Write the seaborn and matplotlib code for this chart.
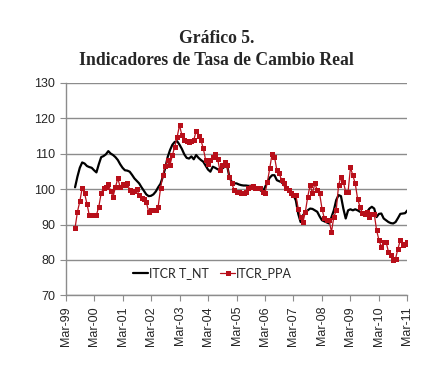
import numpy as np
import pandas as pd
import matplotlib
matplotlib.use("Agg")
import matplotlib.pyplot as plt
import seaborn as sns

# month index counted from Mar-99 (0) to Mar-11 (144)
first_month = 4
last_month = 144

itcr_tnt = [100.5, 103.5, 106, 107.5, 107.2, 106.5, 106.2, 106, 105.3, 104.7,
            107, 109, 109.3, 109.8, 110.7, 110, 109.6, 109, 108.2, 107,
            106, 105.3, 105.2, 104.9, 104, 103, 102.3, 101.6, 100.5, 99.5,
            98.5, 98, 98.1, 98.5, 99.3, 100.5, 101.5, 103.5, 106, 109,
            111, 112.5, 113.3, 113.5, 112.5, 111.3, 109.8, 108.8, 108.6, 109.2,
            108.4, 109.6, 108.8, 108.2, 107.7, 106.6, 105.5, 104.9, 106.3, 106,
            105.6, 105.3, 105.8, 106.3, 106.8, 103.4, 102, 101.6, 101.6, 101.3,
            101.1, 101, 101, 100.9, 100.9, 101, 100.4, 100, 99.7, 99.2,
            100.5, 102, 103.2, 103.9, 103.9, 102.5, 102.2, 101.9, 101.2, 100.2,
            99.5, 98.9, 98.3, 96.8, 93, 90.7, 92.6, 93.5, 94, 94.5,
            94.4, 94, 93.6, 92.3, 91.2, 90.9, 90.6, 90.3, 92.1, 94,
            96.9, 98.3, 98, 94.5, 91.7, 94, 94.3, 94, 94.3, 94,
            93.6, 93.4, 93.1, 93.6, 94.5, 95, 94.5, 92.1, 93, 93.1,
            91.7, 91.2, 90.7, 90.4, 90.3, 90.7, 91.8, 93, 93.1, 93.2,
            94]

itcr_ppa = [89, 93.6, 96.5, 100.3, 98.8, 95.9, 92.6, 92.6, 92.6, 92.7,
            95, 98.8, 100.3, 100.5, 101.3, 99.5, 97.8, 100.5, 103, 100.6,
            101.4, 101.2, 101.8, 99.7, 99.2, 99.4, 99.9, 98.3, 97.5, 97.3,
            96.4, 93.6, 94, 94.1, 94.2, 95, 100.2, 104, 106.5, 108.2,
            106.8, 109.6, 111.9, 114.7, 118, 115.2, 113.8, 113.5, 113.4, 113.6,
            113.8, 116.4, 114.9, 113.8, 111.5, 108.2, 107, 108.2, 109.1, 110,
            108.6, 105.3, 106.8, 107.7, 106.8, 103.4, 101.6, 99.7, 99.2, 99.2,
            98.8, 99, 99.2, 100.2, 100.5, 100.8, 100.2, 100.2, 100.2, 99.2,
            98.8, 102, 105.8, 110, 109.1, 105.3, 104.4, 102.5, 101.6, 100.2,
            99.7, 98.8, 98.3, 98.3, 94.5, 92.1, 90.7, 93.6, 97.8, 101.1,
            98.8, 101.6, 99.7, 98.8, 94.5, 91.7, 91.2, 91.2, 87.9, 92.1,
            94, 101.1, 103.4, 102, 99.2, 99.2, 106.1, 103.9, 101.6, 97.3,
            95, 93.3, 93.1, 93.6, 92.1, 93.1, 93.1, 88.4, 85.6, 83.7,
            85.1, 85.1, 82.3, 81.3, 79.9, 80.4, 83.2, 85.6, 84.2, 84.6,
            85.1]

tick_labels = ['Mar-99', 'Mar-00', 'Mar-01', 'Mar-02', 'Mar-03', 'Mar-04', 'Mar-05',
               'Mar-06', 'Mar-07', 'Mar-08', 'Mar-09', 'Mar-10', 'Mar-11']

months = np.arange(first_month, last_month + 1)
df = pd.DataFrame({'mes': months, 'ITCR T_NT': itcr_tnt, 'ITCR_PPA': itcr_ppa})

sns.set_style("white")
plt.rcParams['font.family'] = ['Liberation Sans', 'DejaVu Sans']

fig = plt.figure(figsize=(4.4, 3.74), dpi=100)
ax = fig.add_axes([0.149, 0.21, 0.777, 0.569])

grid_col = '#8c8c8c'
ax.set_ylim(70, 130)
ax.set_xlim(0, 144)
ax.set_yticks(range(70, 131, 10))
ax.yaxis.grid(True, color=grid_col, linewidth=1)
ax.set_axisbelow(True)

sns.lineplot(data=df, x='mes', y='ITCR T_NT', ax=ax, color='black', linewidth=1.6,
             label='ITCR T_NT')
sns.lineplot(data=df, x='mes', y='ITCR_PPA', ax=ax, color='#b80f1a', linewidth=0.9,
             marker='s', markersize=3.6, markeredgewidth=0, label='ITCR_PPA')

ax.set_xticks(range(0, 145, 12))
ax.set_xticklabels(tick_labels, rotation=90, fontsize=9)
ax.tick_params(axis='y', labelsize=9, length=4, color=grid_col, direction='out', left=True)
ax.tick_params(axis='x', length=4, color=grid_col, direction='out', bottom=True)
ax.set_xlabel('')
ax.set_ylabel('')

for s in ['top', 'right']:
    ax.spines[s].set_visible(False)
for s in ['left', 'bottom']:
    ax.spines[s].set_color(grid_col)
    ax.spines[s].set_linewidth(1)

leg = ax.legend(loc='lower center', bbox_to_anchor=(0.43, 0.025), ncol=2, frameon=False,
                handlelength=1.2, handletextpad=0.1, columnspacing=0.9,
                prop={'family': 'Lato', 'size': 9})

fig.text(0.493, 0.897, 'Gráfico 5.', ha='center', va='center', fontsize=12.7,
         fontweight='bold', family='Liberation Serif')
fig.text(0.493, 0.838, 'Indicadores de Tasa de Cambio Real', ha='center', va='center',
         fontsize=12.7, fontweight='bold', family='Liberation Serif')

fig.savefig('out.png', dpi=100)
